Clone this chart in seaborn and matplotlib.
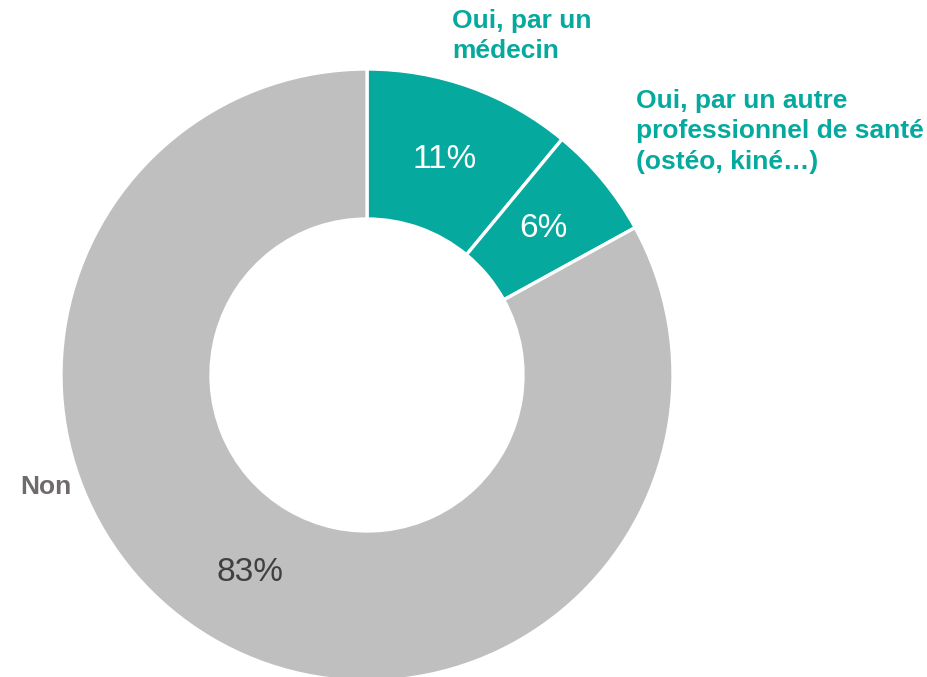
import matplotlib
matplotlib.use("Agg")
import matplotlib.pyplot as plt
import seaborn as sns

sns.set_theme(style="white")
plt.rcParams["font.family"] = ["Liberation Sans", "DejaVu Sans"]

# Survey answers and their shares (%)
categories = ["Oui, par un\nmédecin",
              "Oui, par un autre\nprofessionnel de santé\n(ostéo, kiné…)",
              "Non"]
shares = [11, 6, 83]
colors = ["#05A99D", "#05A99D", "#BFBFBF"]
pct_colors = ["white", "white", "#404040"]
label_colors = ["#05A99D", "#05A99D", "#6F6B6B"]

W, H = 927, 677
fig = plt.figure(figsize=(W / 100, H / 100), dpi=100)
ax = fig.add_axes([0, 0, 1, 1])

wedges, texts, autotexts = ax.pie(
    shares,
    startangle=90,
    counterclock=False,
    colors=colors,
    center=(367, H - 375),
    radius=306,
    autopct=lambda p: f"{p:.0f}%",
    pctdistance=0.75,
    wedgeprops=dict(width=306 - 156, edgecolor="white", linewidth=2.4),
    textprops=dict(fontsize=24),
)
for t, c in zip(autotexts, pct_colors):
    t.set_color(c)

# Category labels
label_pos = [(452, 9, "top"), (636, 89, "top"), (20, 487, "center")]
for text, (x, y, va), c in zip(categories, label_pos, label_colors):
    ax.text(x, H - y, text, ha="left", va=va, color=c,
            fontsize=19, fontweight="bold", linespacing=1.33)

ax.set_xlim(0, W)
ax.set_ylim(0, H)
ax.set_aspect("equal")
ax.axis("off")

fig.savefig("out.png", dpi=100, facecolor="white")
